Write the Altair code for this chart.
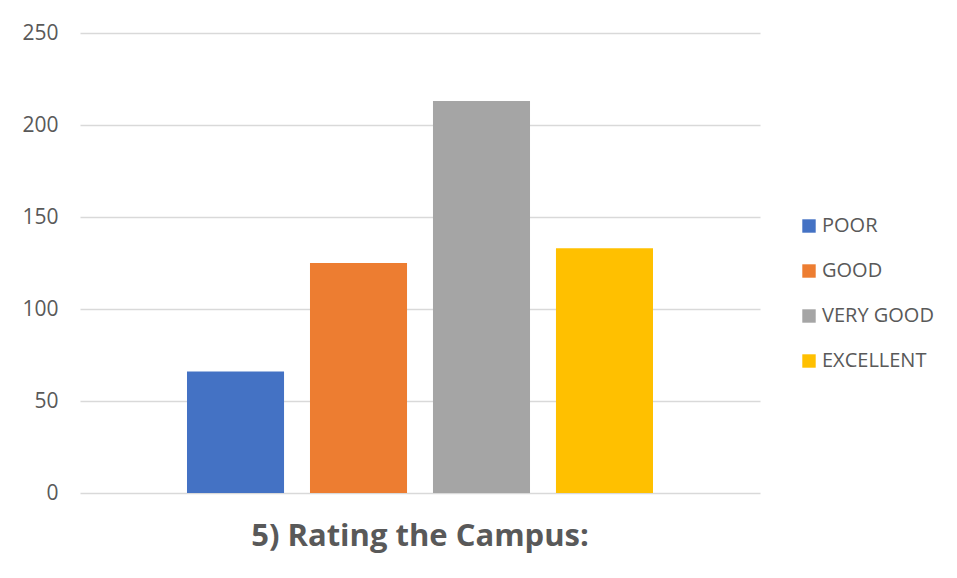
import altair as alt
import pandas as pd

categories = ["POOR", "GOOD", "VERY GOOD", "EXCELLENT"]
values = [66, 125, 213, 133]
colors = ["#4472C4", "#ED7D31", "#A5A5A5", "#FFC000"]
y_ticks = [0, 50, 100, 150, 200, 250]

df = pd.DataFrame({"rating": categories, "count": values})

chart = alt.Chart(df).mark_bar().encode(
    x=alt.X("rating:N", sort=categories, axis=None,
            scale=alt.Scale(paddingInner=0.211, paddingOuter=0.87)),
    y=alt.Y("count:Q", scale=alt.Scale(domain=[0, 250], nice=False),
            axis=alt.Axis(values=y_ticks, title=None, domain=False, ticks=False,
                          labelFont="Open Sans", labelFontSize=21, labelColor="#595959",
                          labelPadding=22, gridColor="#D9D9D9", gridWidth=1.3)),
    color=alt.Color("rating:N", sort=categories,
                    scale=alt.Scale(domain=categories, range=colors),
                    legend=alt.Legend(title=None, orient="none", legendX=719, legendY=183,
                                      symbolType="square", symbolSize=180, symbolStrokeWidth=0,
                                      labelFont="Open Sans", labelFontSize=20,
                                      labelColor="#595959", rowPadding=25, labelOffset=3)),
).properties(
    width=680, height=460,
    background="white",
    title=alt.TitleParams("5) Rating the Campus:", orient="bottom", anchor="middle",
                          font="Open Sans", fontSize=31, fontWeight="bold",
                          color="#595959", offset=19),
    autosize=alt.AutoSizeParams(type="none"),
    padding={"left": 80, "top": 33, "right": 197, "bottom": 85},
).configure_view(stroke=None)

chart.save("out.html", embed_options={"renderer": "svg", "actions": False})
